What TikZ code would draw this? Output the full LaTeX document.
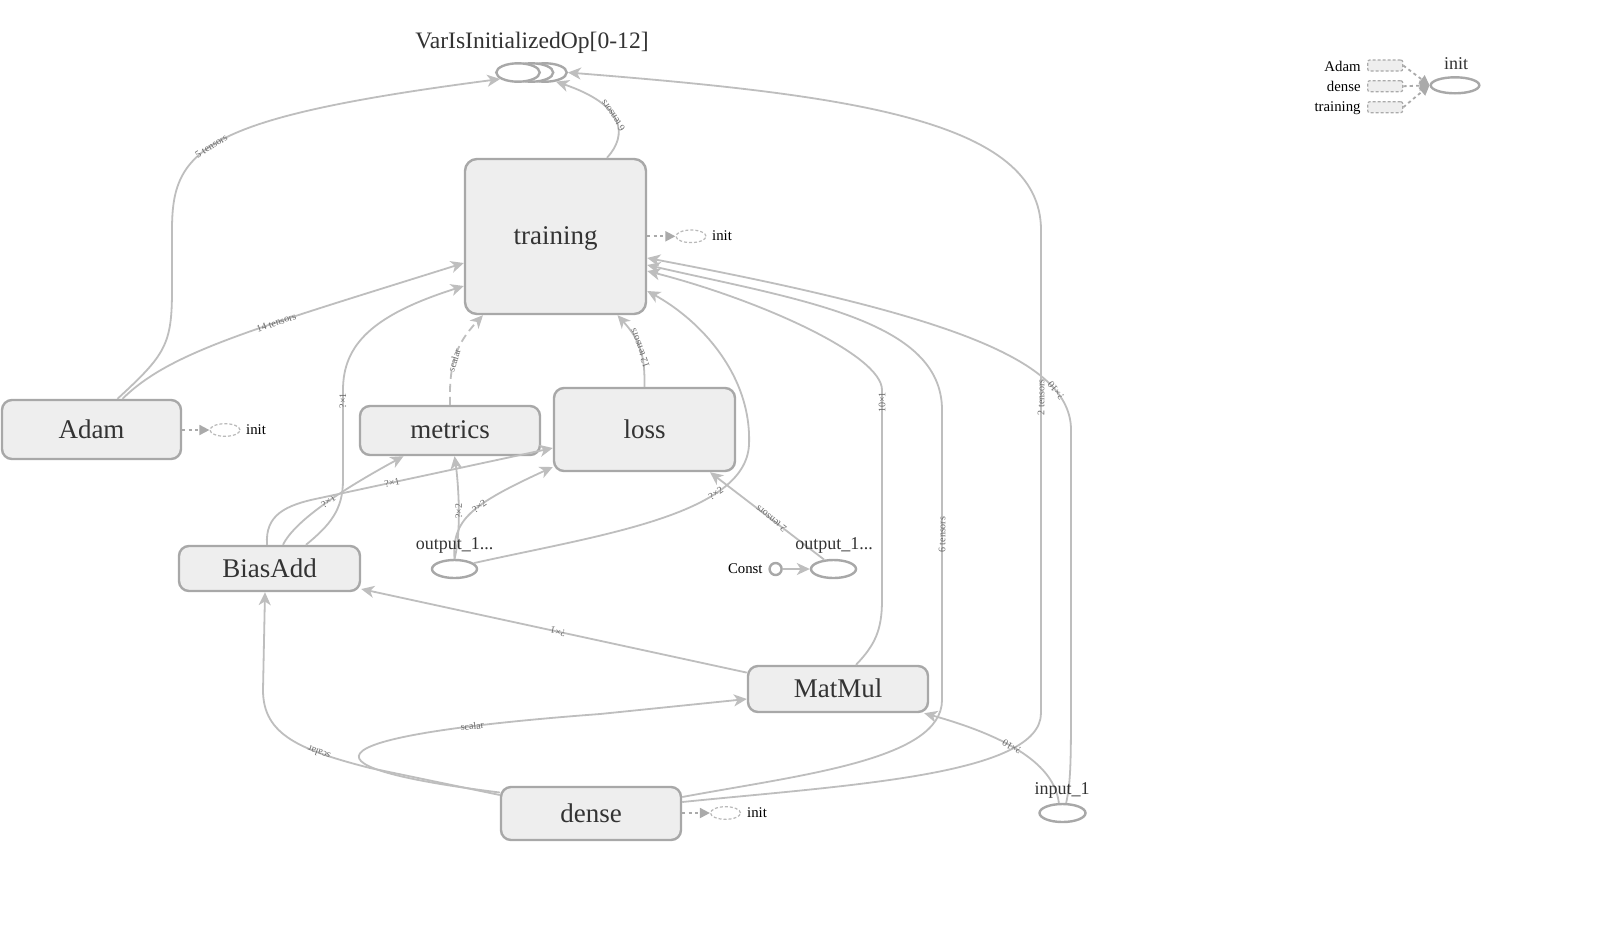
\documentclass[tikz,border=0pt]{standalone}
\usepackage{fontspec}
\setmainfont{Liberation Serif}
\usetikzlibrary{arrows.meta,shapes.geometric,calc}
\definecolor{edgec}{RGB}{190,190,190}
\definecolor{nodeb}{RGB}{168,168,168}
\definecolor{nodef}{RGB}{238,238,238}
\definecolor{textc}{RGB}{51,51,51}
\definecolor{labc}{RGB}{105,105,105}
\definecolor{dotc}{RGB}{170,170,170}
\definecolor{initc}{RGB}{185,185,185}
\begin{document}
\begin{tikzpicture}[x=0.5pt,y=-0.5pt,
  opbox/.style={draw=nodeb, line width=1.2pt, fill=nodef, rounded corners=5pt, inner sep=0,
    font=\fontsize{13.5}{16}\selectfont, text=textc, text depth=0.6pt},
  opell/.style={ellipse, draw=nodeb, line width=1.2pt, fill=white, inner sep=0},
  edge/.style={draw=edgec, line width=0.9pt, -{Stealth[length=6.5pt,width=6pt,inset=1.9pt]}},
  lab/.style={sloped, allow upside down, font=\fontsize{5}{5}\selectfont, text=labc, inner sep=0.3pt},
  dotedge/.style={draw=dotc, line width=0.9pt, dash pattern=on 1.6pt off 1.6pt, -{Triangle[length=5pt,width=5pt]}},
  initell/.style={ellipse, draw=initc, line width=0.6pt, dash pattern=on 1.5pt off 1pt,
    minimum width=15pt, minimum height=6.3pt, inner sep=0},
  smalltxt/.style={font=\fontsize{7.4}{8}\selectfont, text=black, inner sep=0},
  optxt/.style={font=\fontsize{9}{10}\selectfont, text=textc, inner sep=0},
  legrect/.style={draw=dotc, line width=0.6pt, dash pattern=on 1.5pt off 1pt, fill=nodef,
    rounded corners=1pt, minimum width=17.5pt, minimum height=5.5pt, inner sep=0}
]
\useasboundingbox (0,0) rectangle (1598,932);
\fill[white] (0,0) rectangle (1598,932);

% ---------- op boxes ----------
\node[opbox, rounded corners=6pt, minimum width=90.5pt, minimum height=77.5pt] (training) at (555.5,236.5) {training};
\node[opbox, minimum width=89.5pt, minimum height=29.5pt] (adam) at (91.5,429.5) {Adam};
\node[opbox, minimum width=90pt, minimum height=24.5pt] (metrics) at (450,430.5) {metrics};
\node[opbox, minimum width=90.5pt, minimum height=41.5pt] (loss) at (644.5,429.5) {loss};
\node[opbox, minimum width=90.5pt, minimum height=22.5pt] (biasadd) at (269.5,568.5) {BiasAdd};
\node[opbox, minimum width=90pt, minimum height=23pt] (matmul) at (838,689) {MatMul};
\node[opbox, minimum width=90pt, minimum height=26.5pt] (dense) at (591,813.5) {dense};

% ---------- VarIsInitializedOp stack ----------
\node[opell, minimum width=21.7pt, minimum height=9.2pt] (vback) at (545,72.5) {};
\node[opell, minimum width=21.7pt, minimum height=9.2pt] (vmid) at (531.5,72.5) {};
\node[opell, minimum width=21.7pt, minimum height=9.2pt] (vfront) at (518,72.5) {};
\node[font=\fontsize{11.8}{13}\selectfont, text=textc, inner sep=0] (vlabel) at (532,43) {VarIsInitializedOp[0-12]};

% ---------- small ops ----------
\node[opell, minimum width=22.5pt, minimum height=9pt] (out1L) at (454.5,569) {};
\node[opell, minimum width=22.5pt, minimum height=9pt] (out1R) at (833.5,569) {};
\node[circle, draw=nodeb, line width=1.2pt, fill=white, minimum size=6pt, inner sep=0] (const) at (775.6,569) {};
\node[smalltxt, anchor=east] (constlab) at (763,569) {Const};
\node[opell, minimum width=23pt, minimum height=9pt] (input) at (1062.5,813) {};

% ---------- init (dashed) ----------
\node[initell] (tinit) at (691,236.3) {};
\node[smalltxt] (tinitlab) at (722,236) {init};
\node[initell] (ainit) at (225,430) {};
\node[smalltxt] (ainitlab) at (256,430) {init};
\node[initell] (dinit) at (725.5,813) {};
\node[smalltxt] (dinitlab) at (757,813) {init};

\draw[dotedge] (training.east |- tinit.west) -- (tinit.west);
\draw[dotedge] (adam.east |- ainit.west) -- (ainit.west);
\draw[dotedge] (dense.east |- dinit.west) -- (dinit.west);

% ---------- legend (top right) ----------
\node[legrect] (legA) at (1385.2,65.5) {};
\node[legrect] (legD) at (1385.2,86.2) {};
\node[legrect] (legT) at (1385.2,107.2) {};
\node[smalltxt, anchor=east] (legAlab) at (1361,66) {Adam};
\node[smalltxt, anchor=east] (legDlab) at (1361,86.7) {dense};
\node[smalltxt, anchor=east] (legTlab) at (1361,108) {training};
\node[opell, minimum width=24.3pt, minimum height=8pt] (linit) at (1455,85.3) {};
\node[optxt] (linitlab) at (1456,64) {init};
\draw[dotedge] (legA.east) -- (linit.west);
\draw[dotedge] (legD.east) -- (linit.west);
\draw[dotedge] (legT.east) -- (linit.west);

% ---------- edges ----------
% Adam -> VarIsInitializedOp
\draw[edge] ([xshift=13pt]adam.north) .. controls (165,355) and (172,345) .. (172,290) -- (172,230)
  .. controls (172,150) and (200,118) .. node[lab,pos=0.45]{5 tensors} (vfront.200);
% Adam -> training
\draw[edge] ([xshift=15.5pt]adam.north) .. controls (170,352) and (250,330) ..
  node[lab,pos=0.63]{14 tensors} ([yshift=-13.25pt]training.west);
% training -> VarIsInitializedOp
\draw[edge] ([xshift=25.75pt]training.north) .. controls (628,135) and (625,105) ..
  node[lab,pos=0.55]{6 tensors} (vback.-40);
% metrics -> training (dashed)
\draw[edge, dash pattern=on 4pt off 2.5pt] (metrics.north) .. controls (449,365) and (455,345) ..
  node[lab,pos=0.45]{scalar} ([xshift=-36.25pt]training.south);
% loss -> training
\draw[edge] (loss.north) .. controls (645,355) and (640,340) ..
  node[lab,pos=0.5]{12 tensors} ([xshift=31pt]training.south);
% BiasAdd -> training
\draw[edge] ([xshift=18.25pt]biasadd.north) .. controls (330,525) and (343,510) .. (343,480)
  -- node[lab,pos=0.88]{?×1} (343,390) .. controls (343,345) and (372,315) .. ([yshift=-24.75pt]training.west);
% BiasAdd -> metrics
\draw[edge] ([xshift=6.75pt]biasadd.north) .. controls (295,520) and (345,488) ..
  node[lab,pos=0.52]{?×1} ([xshift=-23.25pt]metrics.south);
% BiasAdd -> loss
\draw[edge] ([xshift=-1.25pt]biasadd.north) .. controls (265,515) and (285,505) .. (320,498)
  -- node[lab,pos=0.31]{?×1} ([yshift=-9.25pt]loss.west);
% output_1 -> metrics
\draw[edge] (out1L.north) .. controls (462,530) and (458,480) ..
  node[lab,pos=0.45]{?×2} ([xshift=2.25pt]metrics.south);
% output_1 -> loss
\draw[edge] (out1L.north) .. controls (452,520) and (470,505) ..
  node[lab,pos=0.58]{?×2} ([yshift=-18.75pt]loss.west);
% output_1 -> training
\draw[edge] (out1L.17) .. controls (600,535) and (745,515) .. (749,445)
  node[lab,pos=0.72]{?×2}
  .. controls (752,375) and (700,320) .. ([yshift=-27.25pt]training.east);
% output_1 (right) -> loss
\draw[edge] (out1R.135) -- node[lab,pos=0.465]{2 tensors} ([xshift=32.75pt]loss.south);
% Const -> output_1 (right)
\draw[edge] (const) -- (out1R);
% MatMul -> BiasAdd
\draw[edge] ([yshift=8.2pt]matmul.west) -- node[lab,pos=0.49]{?×1} ([yshift=-10.25pt]biasadd.east);
% MatMul -> training
\draw[edge] ([xshift=9pt]matmul.north) .. controls (875,645) and (882,630) .. (882,600)
  -- node[lab,pos=0.94]{10×1} (882,390) .. controls (882,355) and (760,300) .. ([yshift=-17.25pt]training.east);
% dense -> training
\draw[edge] ([yshift=8.25pt]dense.east) .. controls (800,775) and (942,760) .. (942,700)
  -- node[lab,pos=0.57]{6 tensors} (942,410) .. controls (942,320) and (800,300) .. ([yshift=-14.25pt]training.east);
% dense -> VarIsInitializedOp
\draw[edge] ([yshift=5.75pt]dense.east) .. controls (850,785) and (1041,775) .. (1041,713)
  -- node[lab,pos=0.654]{2 tensors} (1041,230) .. controls (1041,120) and (850,95) .. (vback.east);
% input_1 -> training
\draw[edge] (input.70) .. controls (1071,780) and (1071,760) .. (1071,690) -- (1071,430)
  .. controls (1071,360) and (950,315) .. node[lab,pos=0.2]{?×10} ([yshift=-10.75pt]training.east);
% input_1 -> MatMul
\draw[edge] (input.110) .. controls (1055,770) and (1020,740) ..
  node[lab,pos=0.6]{?×10} ([xshift=-2.5pt]matmul.south east);
% dense -> BiasAdd
\draw[edge] ([yshift=9.25pt]dense.west) -- (370,768) .. controls (300,750) and (263,735) .. (263,690)
  node[lab,pos=0.28]{scalar} -- ([xshift=-2.25pt]biasadd.south);
% dense -> MatMul
\draw[edge] ([yshift=10.5pt]dense.west) .. controls (280,765) and (320,735) .. (600,714)
  node[lab,pos=0.82]{scalar} -- ([yshift=-5pt]matmul.west);

% ---------- op labels drawn over the connectors ----------
\node[optxt] (out1Llab) at (454.5,545) {output\_1...};
\node[optxt] (out1Rlab) at (834,545) {output\_1...};
\node[optxt] (inputlab) at (1062,790) {input\_1};
\end{tikzpicture}
\end{document}
